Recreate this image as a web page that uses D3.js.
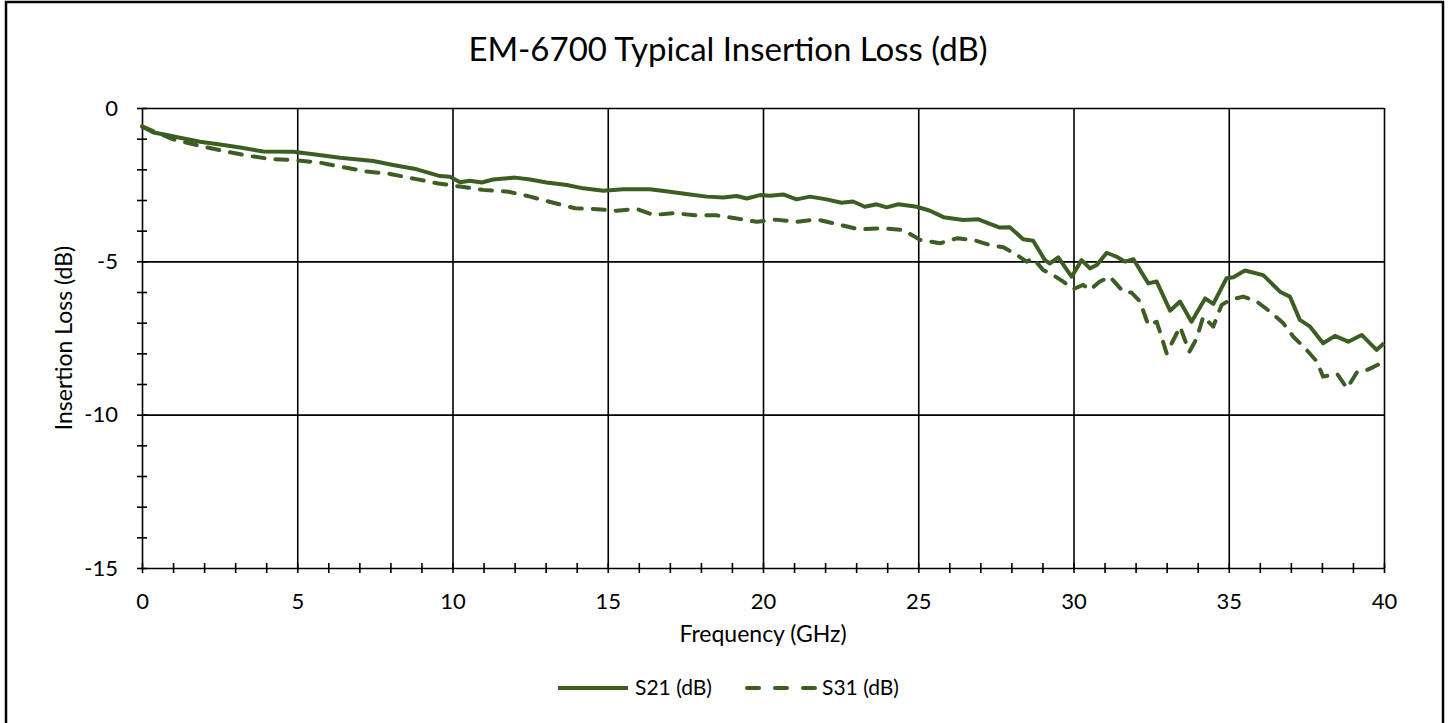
<!DOCTYPE html>
<html lang="en">
<head>
<meta charset="utf-8">
<title>EM-6700 Typical Insertion Loss</title>
<script src="https://cdn.jsdelivr.net/npm/d3@7"></script>
<style>
    body { margin: 0; background: #fff; }
    svg { display: block; font-family: Lato, "Open Sans", sans-serif; }
    .frame { fill: #fff; stroke: #000; stroke-width: 2.5; }
    .grid line { stroke: #000; stroke-width: 1.6; }
    .grid path, .minor path, .lbl path { display: none; }
    .minor line { stroke: #000; stroke-width: 1.6; }
    .lbl line { display: none; }
    .lbl text { font-size: 22px; font-family: Lato, sans-serif; fill: #000; }
    .curve { fill: none; stroke: #3d5e23; stroke-width: 4; stroke-linejoin: round; }
    .dash { stroke-dasharray: 12 11; stroke-linecap: round; }
</style>
</head>
<body>
<svg width="1449" height="723"></svg>
<script>
// data (GHz, dB)
const freqS21 = [0, 0.37, 0.8, 1.22, 1.87, 2.51, 3.16, 3.91, 4.87, 5.52, 6.38, 7.45, 8.09, 8.85, 9.6, 9.92,
    10.24, 10.56, 10.94, 11.31, 12.01, 12.5, 13.03, 13.68, 14.21, 14.86, 15.5, 16.36, 17.0, 17.65, 18.19,
    18.72, 19.15, 19.48, 19.9, 20.23, 20.65, 21.08, 21.51, 22.05, 22.53, 22.9, 23.28, 23.66, 23.98, 24.36,
    24.95, 25.38, 25.81, 26.45, 26.94, 27.31, 27.63, 27.95, 28.38, 28.7, 29.08, 29.24, 29.51, 29.94, 30.26,
    30.53, 30.75, 31.07, 31.39, 31.66, 31.93, 32.41, 32.68, 33.11, 33.43, 33.8, 34.24, 34.5, 34.93, 35.15,
    35.52, 36.11, 36.65, 36.97, 37.29, 37.62, 38.04, 38.42, 38.85, 39.28, 39.76, 40];
const s21 = [-0.6, -0.8, -0.88, -0.97, -1.1, -1.19, -1.29, -1.42, -1.43, -1.51, -1.62, -1.73, -1.86, -2.0, -2.22, -2.24,
    -2.42, -2.37, -2.43, -2.33, -2.27, -2.33, -2.43, -2.51, -2.62, -2.7, -2.65, -2.65, -2.73, -2.82, -2.89,
    -2.92, -2.87, -2.95, -2.84, -2.86, -2.82, -2.98, -2.89, -2.98, -3.09, -3.05, -3.22, -3.14, -3.24, -3.14,
    -3.22, -3.35, -3.56, -3.65, -3.63, -3.78, -3.9, -3.89, -4.28, -4.33, -4.96, -5.07, -4.87, -5.5, -4.96,
    -5.23, -5.12, -4.72, -4.85, -5.01, -4.93, -5.72, -5.66, -6.61, -6.31, -6.97, -6.21, -6.39, -5.55, -5.52,
    -5.3, -5.45, -5.99, -6.15, -6.91, -7.13, -7.67, -7.43, -7.62, -7.4, -7.89, -7.67];

const freqS31 = [0, 1.0, 1.76, 2.57, 3.37, 4.12, 4.93, 5.73, 6.48, 7.24, 7.99, 8.79, 9.54, 10.3, 10.99, 11.8,
    12.5, 13.25, 13.95, 14.64, 15.29, 15.93, 16.47, 17.11, 17.86, 18.5, 19.15, 19.8, 20.39, 21.08, 21.73,
    22.48, 23.12, 23.77, 24.52, 25.06, 25.7, 26.24, 26.77, 27.31, 27.74, 28.17, 28.49, 28.7, 29.02, 29.34,
    29.67, 29.99, 30.31, 30.53, 30.85, 31.17, 31.6, 31.87, 32.14, 32.41, 32.68, 33.0, 33.27, 33.43, 33.73,
    33.97, 34.18, 34.5, 34.77, 35.04, 35.47, 35.9, 36.33, 36.76, 37.08, 37.51, 37.84, 38.04, 38.49, 38.81,
    39.14, 39.46, 39.67, 40];
const s31 = [-0.6, -1.02, -1.21, -1.39, -1.55, -1.66, -1.7, -1.78, -1.93, -2.07, -2.15, -2.31, -2.46, -2.57, -2.67, -2.73,
    -2.89, -3.09, -3.27, -3.3, -3.35, -3.29, -3.49, -3.43, -3.5, -3.5, -3.6, -3.71, -3.64, -3.71, -3.63,
    -3.81, -3.96, -3.92, -3.98, -4.3, -4.41, -4.25, -4.3, -4.47, -4.54, -4.79, -5.01, -4.9, -5.28, -5.45,
    -5.66, -5.91, -5.77, -5.93, -5.66, -5.5, -5.99, -6.02, -6.31, -7.08, -6.97, -8.0, -7.46, -7.13, -7.95,
    -7.51, -6.8, -7.13, -6.42, -6.26, -6.15, -6.31, -6.64, -7.02, -7.46, -7.89, -8.27, -8.76, -8.67, -9.14,
    -8.6, -8.54, -8.44, -8.27];

const xMajor = [0, 5, 10, 15, 20, 25, 30, 35, 40];
const yMajor = [0, -5, -10, -15];

const svg = d3.select("svg");
svg.append("rect").attr("class", "frame")
    .attr("x", 6).attr("y", 2).attr("width", 1437).attr("height", 740);

const pLeft = 142, pRight = 1384, pTop = 108, pBottom = 568;
const x = d3.scaleLinear().domain([0, 40]).range([pLeft, pRight]);
const y = d3.scaleLinear().domain([-15, 0]).range([pBottom, pTop]);

// gridlines
svg.append("g").attr("class", "grid")
    .attr("transform", `translate(0,${pBottom})`)
    .call(d3.axisBottom(x).tickValues(xMajor).tickSize(-(pBottom - pTop)).tickFormat(""));
svg.append("g").attr("class", "grid")
    .attr("transform", `translate(${pLeft},0)`)
    .call(d3.axisLeft(y).tickValues(yMajor).tickSize(-(pRight - pLeft)).tickFormat(""));

// small ticks that cross the axes
svg.append("g").attr("class", "minor")
    .attr("transform", `translate(0,${pBottom})`)
    .call(d3.axisBottom(x).ticks(40).tickSize(5).tickFormat(""))
    .selectAll(".tick line").attr("y1", -5);
svg.append("g").attr("class", "minor")
    .attr("transform", `translate(${pLeft},0)`)
    .call(d3.axisLeft(y).ticks(15).tickSize(5).tickFormat(""))
    .selectAll(".tick line").attr("x1", 5);

// tick labels (plain hyphen like the original)
svg.append("g").attr("class", "lbl")
    .attr("transform", `translate(0,${pBottom})`)
    .call(d3.axisBottom(x).tickValues(xMajor).tickSize(0).tickPadding(25).tickFormat(d => String(d)));
svg.append("g").attr("class", "lbl")
    .attr("transform", `translate(${pLeft},0)`)
    .call(d3.axisLeft(y).tickValues(yMajor).tickSize(0).tickPadding(24).tickFormat(d => String(d)));

// curves
const line = d3.line().x(d => x(d[0])).y(d => y(d[1]));
svg.append("path").attr("class", "curve")
    .attr("d", line(d3.zip(freqS21, s21)));
svg.append("path").attr("class", "curve dash")
    .attr("d", line(d3.zip(freqS31, s31)));

// titles
svg.append("text").attr("x", 728).attr("y", 61).attr("text-anchor", "middle")
    .style("font-size", "33px").text("EM-6700 Typical Insertion Loss (dB)");
svg.append("text").attr("x", 763).attr("y", 642).attr("text-anchor", "middle")
    .style("font-size", "23px").text("Frequency (GHz)");
svg.append("text").attr("transform", `translate(72,338) rotate(-90)`)
    .attr("text-anchor", "middle").style("font-size", "23px").text("Insertion Loss (dB)");

// legend
const legend = [["S21 (dB)", false, 558], ["S31 (dB)", true, 745]];
legend.forEach(([name, dashed, lx]) => {
    svg.append("line").attr("class", dashed ? "curve dash" : "curve")
        .attr("x1", lx).attr("x2", lx + 70).attr("y1", 688).attr("y2", 688)
        .style("stroke-dasharray", dashed ? "12 16" : null)
        .style("stroke-dashoffset", dashed ? -2 : null);
    svg.append("text").attr("x", lx + 77).attr("y", 695).style("font-size", "21px").text(name);
});
</script>
</body>
</html>
